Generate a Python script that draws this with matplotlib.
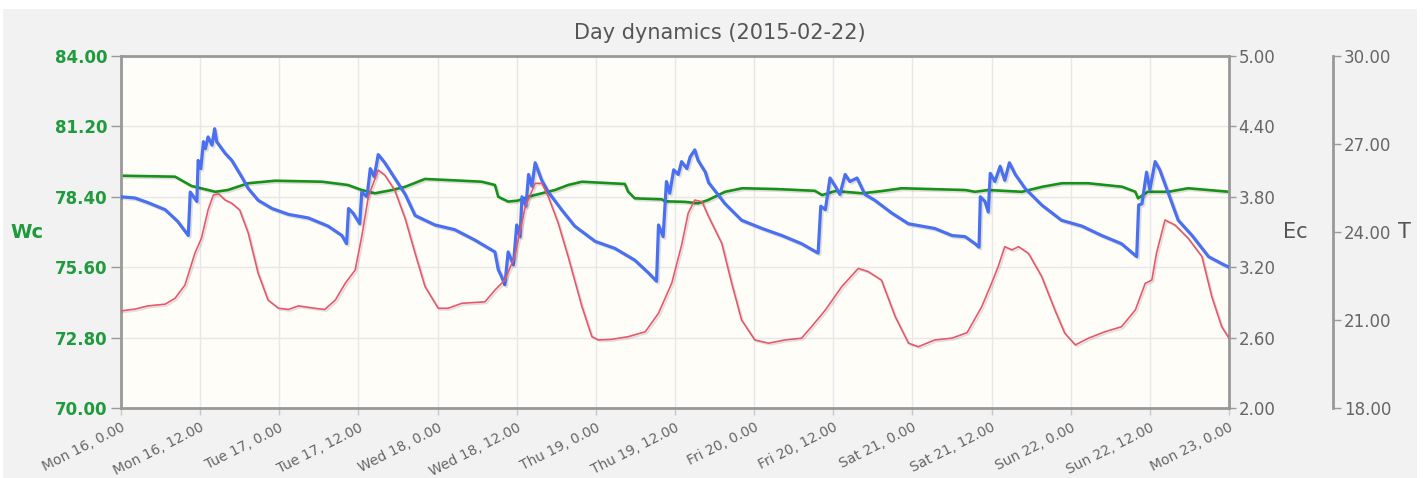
import datetime as dt
import matplotlib
matplotlib.use('Agg')
import matplotlib.pyplot as plt
import matplotlib.patheffects as pe
from matplotlib.patches import Rectangle

start = dt.datetime(2015, 2, 16)

# Wc (green, left axis)
wc_hours = [0, 8.2, 10.7, 14.3, 16.2, 19.3, 23.4, 30.5, 34.4, 36.5, 38.5, 41.1, 43.1, 46.1, 51.7,
            54.7, 56.7, 57.2, 58.7, 60.2, 61.7, 63.8, 65.8, 67.8, 69.9, 76.4, 76.9, 77.9, 82.0, 82.5,
            85.5, 87.5, 89.0, 91.6, 94.2, 99.2, 105.2, 106.3, 108.3, 112.4, 115.4, 118.4, 128.0, 129.5,
            131.5, 136.6, 139.7, 142.7, 146.6, 151.8, 153.8, 154.2, 155.7, 158.8, 161.8, 168]
wc_values = [79.24, 79.20, 78.83, 78.60, 78.67, 78.94, 79.04, 79.00, 78.87, 78.67, 78.54, 78.67, 78.80,
             79.11, 79.04, 79.00, 78.87, 78.40, 78.21, 78.25, 78.40, 78.54, 78.67, 78.87, 79.00, 78.91,
             78.60, 78.34, 78.30, 78.22, 78.20, 78.14, 78.27, 78.60, 78.74, 78.71, 78.64, 78.47, 78.63,
             78.54, 78.63, 78.74, 78.67, 78.60, 78.67, 78.60, 78.80, 78.94, 78.94, 78.80, 78.60, 78.34,
             78.60, 78.60, 78.74, 78.60]

# Ec (blue, right axis)
ec_hours = [0, 2.1, 4.1, 6.7, 8.6, 10.2, 10.5, 11.0, 11.5, 11.7, 12.1, 12.5, 12.8, 13.2, 13.8, 14.2,
            14.5, 15.8, 16.8, 18.3, 19.3, 20.8, 22.9, 25.4, 28.4, 31.4, 33.5, 34.2, 34.5, 35.2, 36.2,
            36.5, 37.3, 37.8, 38.4, 39.0, 40.0, 43.1, 44.6, 47.6, 50.6, 53.7, 56.7, 57.2, 57.7, 58.2,
            58.7, 59.5, 60.0, 60.5, 60.8, 61.4, 61.8, 62.3, 62.8, 63.8, 64.8, 66.8, 68.8, 71.9, 74.9,
            77.9, 80.0, 81.2, 81.5, 82.2, 82.7, 83.2, 83.8, 84.5, 85.0, 85.8, 86.3, 87.0, 87.5, 88.6,
            89.1, 91.6, 94.1, 97.2, 100.2, 103.2, 105.7, 106.1, 106.8, 107.5, 108.3, 109.0, 109.8,
            110.5, 111.6, 112.8, 114.3, 116.9, 119.4, 123.4, 126.0, 128.0, 129.5, 130.1, 130.3, 131.0,
            131.5, 131.8, 132.5, 133.3, 134.0, 134.7, 135.6, 137.1, 139.6, 142.6, 145.7, 148.7, 151.7,
            154.0, 154.3, 154.8, 155.5, 156.0, 156.8, 157.5, 158.8, 160.3, 162.4, 164.9, 166.9, 168]
ec_values = [3.80, 3.79, 3.75, 3.69, 3.59, 3.47, 3.84, 3.80, 3.76, 4.11, 4.04, 4.27, 4.21, 4.31, 4.24,
             4.38, 4.27, 4.17, 4.11, 3.97, 3.87, 3.77, 3.70, 3.65, 3.62, 3.55, 3.47, 3.40, 3.70, 3.66,
             3.57, 3.84, 3.80, 4.04, 3.97, 4.16, 4.09, 3.82, 3.64, 3.56, 3.52, 3.43, 3.33, 3.18, 3.12,
             3.05, 3.33, 3.22, 3.56, 3.46, 3.80, 3.72, 3.99, 3.89, 4.09, 3.94, 3.84, 3.69, 3.55, 3.42,
             3.36, 3.26, 3.15, 3.08, 3.56, 3.46, 3.93, 3.83, 4.03, 3.99, 4.10, 4.04, 4.14, 4.20, 4.11,
             4.01, 3.92, 3.74, 3.60, 3.53, 3.47, 3.40, 3.32, 3.72, 3.69, 3.96, 3.89, 3.82, 3.99, 3.93,
             3.96, 3.82, 3.77, 3.66, 3.57, 3.53, 3.47, 3.46, 3.40, 3.37, 3.80, 3.76, 3.67, 4.00, 3.93,
             4.06, 3.94, 4.09, 3.99, 3.87, 3.73, 3.60, 3.55, 3.47, 3.40, 3.29, 3.73, 3.74, 4.01, 3.86,
             4.10, 4.03, 3.83, 3.60, 3.47, 3.29, 3.23, 3.20]

# T (red, outer right axis)
t_hours = [0, 2.1, 4.1, 6.7, 8.2, 9.7, 11.2, 12.2, 13.2, 14.0, 14.8, 15.8, 16.8, 18.0, 19.3, 20.8,
           22.3, 23.9, 25.4, 26.9, 29.4, 30.9, 32.5, 34.0, 35.5, 36.5, 37.5, 39.0, 40.0, 41.5, 43.1,
           44.6, 46.1, 48.1, 49.6, 51.7, 55.2, 56.7, 58.2, 59.7, 61.3, 62.8, 63.8, 64.8, 66.3, 67.8,
           69.9, 71.4, 72.4, 74.4, 76.9, 79.5, 81.5, 83.5, 85.0, 86.0, 87.0, 88.1, 89.1, 91.1, 92.6,
           94.1, 96.1, 98.2, 100.7, 103.2, 104.7, 106.8, 109.3, 111.8, 113.3, 115.3, 117.4, 119.4,
           120.9, 123.4, 126.0, 128.3, 130.5, 132.0, 133.0, 134.0, 135.1, 136.1, 137.6, 139.6, 141.6,
           143.1, 144.7, 146.7, 149.2, 151.7, 153.8, 155.3, 156.3, 157.0, 158.3, 159.8, 161.8, 163.9,
           165.4, 166.9, 168]
t_values = [21.31, 21.37, 21.48, 21.54, 21.74, 22.19, 23.27, 23.79, 24.75, 25.26, 25.30, 25.09, 24.98,
            24.75, 23.96, 22.59, 21.68, 21.40, 21.36, 21.48, 21.40, 21.36, 21.68, 22.25, 22.70, 23.84,
            25.20, 26.11, 25.94, 25.43, 24.45, 23.27, 22.14, 21.40, 21.40, 21.57, 21.62, 22.02, 22.36,
            23.16, 24.86, 25.66, 25.66, 25.20, 24.30, 23.16, 21.45, 20.43, 20.32, 20.34, 20.43, 20.60,
            21.23, 22.25, 23.55, 24.64, 25.09, 25.03, 24.52, 23.61, 22.25, 21.00, 20.32, 20.21, 20.32,
            20.38, 20.77, 21.34, 22.14, 22.76, 22.65, 22.36, 21.11, 20.21, 20.09, 20.32, 20.38, 20.57,
            21.45, 22.25, 22.82, 23.50, 23.39, 23.50, 23.27, 22.48, 21.34, 20.55, 20.15, 20.38, 20.60,
            20.77, 21.34, 22.25, 22.36, 23.27, 24.41, 24.24, 23.79, 23.16, 21.79, 20.77, 20.38]

wc_ticks = [70, 72.8, 75.6, 78.4, 81.2, 84]
ec_ticks = [2.0, 2.6, 3.2, 3.8, 4.4, 5.0]
t_ticks = [18, 21, 24, 27, 30]

GREEN = '#16911a'
GREEN_TXT = '#1f9a3c'
BLUE = '#4a70f2'
RED = '#e6576c'
GREY = '#999999'
TXT = '#666666'


def to_time(hours):
    return [start + dt.timedelta(hours=h) for h in hours]


def shadow():
    return [pe.SimpleLineShadow(offset=(1.2, -1.2), shadow_color='k', alpha=0.12), pe.Normal()]


fig = plt.figure(figsize=(14.23, 4.78), dpi=100, facecolor='white')
fig.add_artist(Rectangle((3 / 1423, 0), 1414 / 1423, 469 / 478, transform=fig.transFigure,
                         facecolor='#f2f2f2', edgecolor='none', zorder=-10))

ax = fig.add_axes([121 / 1423, 70 / 478, 1108 / 1423, 352 / 478])
ax.set_facecolor('#fffdf7')
ax2 = ax.twinx()
ax3 = ax.twinx()

ax.plot(to_time(wc_hours), wc_values, color=GREEN, lw=1.9, path_effects=shadow())
ax2.plot(to_time(ec_hours), ec_values, color=BLUE, lw=2.3, path_effects=shadow())
ax3.plot(to_time(t_hours), t_values, color=RED, lw=1.2, path_effects=shadow())

# x axis
xticks = [start + dt.timedelta(hours=12 * i) for i in range(15)]
xlabels = [f'{d:%a} {d.day}, {d.hour}.00' for d in xticks]
ax.set_xlim(start, start + dt.timedelta(days=7))
ax.set_xticks(xticks, labels=xlabels, rotation=27, ha='right', rotation_mode='anchor')
ax.tick_params(axis='x', length=5, width=1, color='#c8c8c8', labelsize=10, labelcolor=TXT, pad=4)

# left axis (Wc)
ax.set_ylim(70, 84)
ax.set_yticks(wc_ticks, labels=[f'{v:.2f}' for v in wc_ticks], fontweight='bold')
ax.tick_params(axis='y', length=7, width=1, color=GREY, labelsize=12, labelcolor=GREEN_TXT, pad=3)
ax.set_ylabel('Wc', rotation=0, fontsize=14, fontweight='bold', color=GREEN_TXT, ha='center', va='center')
ax.yaxis.set_label_coords(-0.0848, 0.5)
ax.grid(True, color='#e8e8e8', lw=1)
ax.set_axisbelow(True)
for sp in ax.spines.values():
    sp.set_color(GREY)
    sp.set_linewidth(2)
    sp.set_path_effects([pe.SimplePatchShadow(offset=(1.5, -1.5), alpha=0.15), pe.Normal()])

# right axis (Ec)
ax2.set_ylim(2, 5)
ax2.set_yticks(ec_ticks, labels=[f'{v:.2f}' for v in ec_ticks])
ax2.tick_params(axis='y', length=5, width=1, color=GREY, labelsize=12, labelcolor=TXT, pad=2)
ax2.set_ylabel('Ec', rotation=0, fontsize=15, color='#555555', ha='center', va='center')
ax2.yaxis.set_label_coords(1.0596, 0.5)
for sp in ax2.spines.values():
    sp.set_visible(False)

# outer right axis (T), offset 104 px from the plot edge
ax3.set_ylim(18, 30)
ax3.set_yticks(t_ticks, labels=[f'{v:.2f}' for v in t_ticks])
ax3.tick_params(axis='y', length=6, width=1, color=GREY, labelsize=12, labelcolor=TXT, pad=2)
ax3.spines['right'].set_position(('outward', 104 * 72 / 100))
ax3.spines['right'].set_color(GREY)
ax3.spines['right'].set_linewidth(2)
for name in ['top', 'bottom', 'left']:
    ax3.spines[name].set_visible(False)
ax3.set_ylabel('T', rotation=0, fontsize=15, color='#555555', ha='center', va='center')
ax3.yaxis.set_label_coords(1.1585, 0.5)

fig.text(0.506, 0.931, 'Day dynamics (2015-02-22)', ha='center', va='center', fontsize=15, color='#555555')

fig.savefig('out.png', dpi=100, facecolor=fig.get_facecolor())
